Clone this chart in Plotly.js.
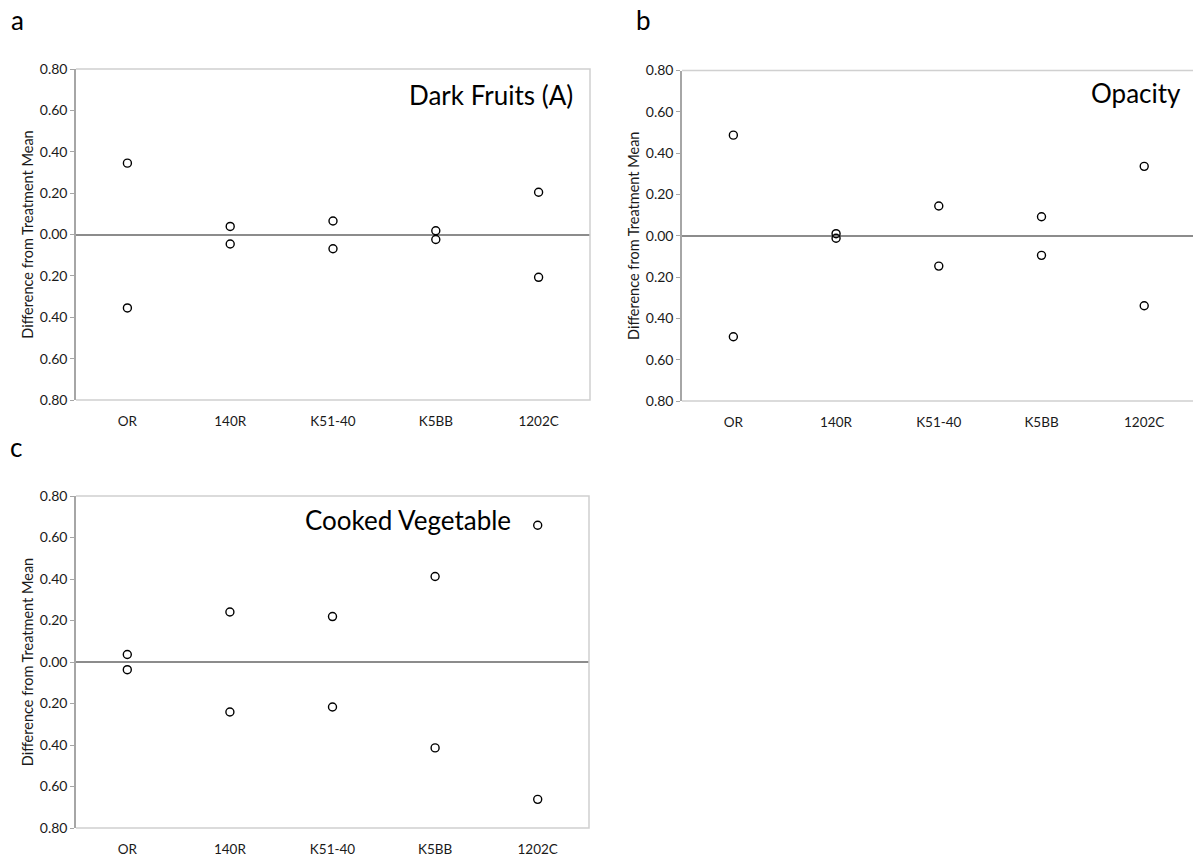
<!DOCTYPE html>
<html>
<head>
<meta charset="utf-8">
<script src="https://cdn.plot.ly/plotly-3.0.1.min.js"></script>
<style>html,body{margin:0;padding:0;background:#fff;}#chart{width:1193px;height:857px;}</style>
</head>
<body>
<div id="chart"></div>
<script>
// Categories (rootstocks)
const categories = ["OR", "140R", "K51-40", "K5BB", "1202C"];

// Panel a: Dark Fruits (A)
const darkFruitsUpper = [0.345, 0.039, 0.065, 0.018, 0.204];
const darkFruitsLower = [-0.355, -0.046, -0.069, -0.024, -0.207];

// Panel b: Opacity
const opacityUpper = [0.487, 0.010, 0.144, 0.092, 0.336];
const opacityLower = [-0.489, -0.012, -0.147, -0.095, -0.339];

// Panel c: Cooked Vegetable
const cookedVegUpper = [0.036, 0.241, 0.219, 0.412, 0.659];
const cookedVegLower = [-0.037, -0.241, -0.217, -0.414, -0.662];

// Y tick labels (absolute values, as in the original)
const yTickVals = [0.8, 0.6, 0.4, 0.2, 0, -0.2, -0.4, -0.6, -0.8];
const yTickText = ["0.80", "0.60", "0.40", "0.20", "0.00", "0.20", "0.40", "0.60", "0.80"];

const panelTitles = ["Dark Fruits (A)", "Opacity", "Cooked Vegetable"];
const panelLetters = ["a", "b", "c"];
const yTitle = "Difference from Treatment Mean";

const FONT = "Lato, 'Open Sans', sans-serif";
const W = 1193, H = 857;

function px2x(p) { return p / W; }
function py2y(p) { return 1 - p / H; }

function trace(upper, lower, xa, ya) {
  return {
    type: "scatter", mode: "markers",
    x: categories.concat(categories),
    y: upper.concat(lower),
    xaxis: xa, yaxis: ya,
    marker: { symbol: "circle-open", size: 8, color: "#000", line: { width: 1.4, color: "#000" } },
    showlegend: false, hoverinfo: "x+y"
  };
}

const data = [
  trace(darkFruitsUpper, darkFruitsLower, "x", "y"),
  trace(opacityUpper, opacityLower, "x2", "y2"),
  trace(cookedVegUpper, cookedVegLower, "x3", "y3")
];

function xAxis(domain, range, anchor) {
  return {
    domain: domain, range: range, anchor: anchor, type: "category",
    showline: false, showgrid: false, zeroline: false,
    ticks: "", ticklabelstandoff: 11,
    tickfont: { family: FONT, size: 13.5, color: "#1a1a1a" },
    fixedrange: true
  };
}
// small divider ticks drawn on the zero line between categories
function dividerAxis(domain, range, overlay, pos) {
  return {
    domain: domain, range: range, overlaying: overlay, anchor: "free", position: pos,
    type: "linear", tickvals: [0.5, 1.5, 2.5, 3.5], showticklabels: false,
    ticks: "outside", ticklen: 3, tickcolor: "#b0b0b0", tickwidth: 1,
    showline: false, showgrid: false, zeroline: false, fixedrange: true
  };
}
function yAxis(domain, anchor) {
  return {
    domain: domain, range: [-0.8, 0.8], anchor: anchor,
    tickvals: yTickVals, ticktext: yTickText,
    showline: true, linecolor: "#a6a6a6", linewidth: 1.5,
    ticks: "outside", ticklen: 4, tickcolor: "#a6a6a6", tickwidth: 1,
    showgrid: false,
    zeroline: true, zerolinecolor: "#8c8c8c", zerolinewidth: 1.5,
    tickfont: { family: FONT, size: 14, color: "#1a1a1a" },
    title: { text: yTitle, font: { family: FONT, size: 14.5, color: "#1a1a1a" }, standoff: 3 },
    fixedrange: true
  };
}

const dA = [px2x(76), px2x(590)], dB = [px2x(682), 1.0], dC = [px2x(76), px2x(589)];

const layout = {
  width: W, height: H,
  margin: { l: 0, r: 0, t: 0, b: 0 },
  paper_bgcolor: "#fff", plot_bgcolor: "#fff",
  showlegend: false,
  xaxis: xAxis(dA, [-0.5, 4.5], "y"),
  yaxis: yAxis([py2y(400), py2y(69)], "x"),
  xaxis2: xAxis(dB, [-0.5, 4.475], "y2"),
  yaxis2: yAxis([py2y(401), py2y(70.5)], "x2"),
  xaxis3: xAxis(dC, [-0.5, 4.5], "y3"),
  yaxis3: yAxis([py2y(828), py2y(496)], "x3"),
  xaxis4: dividerAxis(dA, [-0.5, 4.5], "x", py2y(234.5)),
  xaxis5: dividerAxis(dB, [-0.5, 4.475], "x2", py2y(235.75)),
  xaxis6: dividerAxis(dC, [-0.5, 4.5], "x3", py2y(662)),
  shapes: [
    // light gray frame lines (top, right, bottom)
    { type: "path", xref: "x domain", yref: "y domain", path: "M 0,1 L 1,1 L 1,0 L 0,0", line: { color: "#d0d0d0", width: 1.5 } },
    { type: "path", xref: "x2 domain", yref: "y2 domain", path: "M 0,1 L 1,1 M 1,0 L 0,0", line: { color: "#d0d0d0", width: 1.5 } },
    { type: "path", xref: "x3 domain", yref: "y3 domain", path: "M 0,1 L 1,1 L 1,0 L 0,0", line: { color: "#d0d0d0", width: 1.5 } }
  ],
  annotations: [
    { text: panelTitles[0], xref: "x domain", yref: "y domain", x: 0.971, y: 0.921, xanchor: "right", yanchor: "middle", showarrow: false, font: { family: FONT, size: 26, color: "#000" } },
    { text: panelTitles[1], xref: "x2 domain", yref: "y2 domain", x: 0.980, y: 0.932, xanchor: "right", yanchor: "middle", showarrow: false, font: { family: FONT, size: 26, color: "#000" } },
    { text: panelTitles[2], xref: "x3 domain", yref: "y3 domain", x: 0.852, y: 0.927, xanchor: "right", yanchor: "middle", showarrow: false, font: { family: FONT, size: 26, color: "#000" } },
    { text: panelLetters[0], xref: "paper", yref: "paper", x: px2x(17), y: py2y(20), xanchor: "center", yanchor: "middle", showarrow: false, font: { family: FONT, size: 26, color: "#000" } },
    { text: panelLetters[1], xref: "paper", yref: "paper", x: px2x(643), y: py2y(20), xanchor: "center", yanchor: "middle", showarrow: false, font: { family: FONT, size: 26, color: "#000" } },
    { text: panelLetters[2], xref: "paper", yref: "paper", x: px2x(16), y: py2y(447), xanchor: "center", yanchor: "middle", showarrow: false, font: { family: FONT, size: 26, color: "#000" } }
  ]
};

Plotly.newPlot("chart", data, layout, { displayModeBar: false });
</script>
</body>
</html>
